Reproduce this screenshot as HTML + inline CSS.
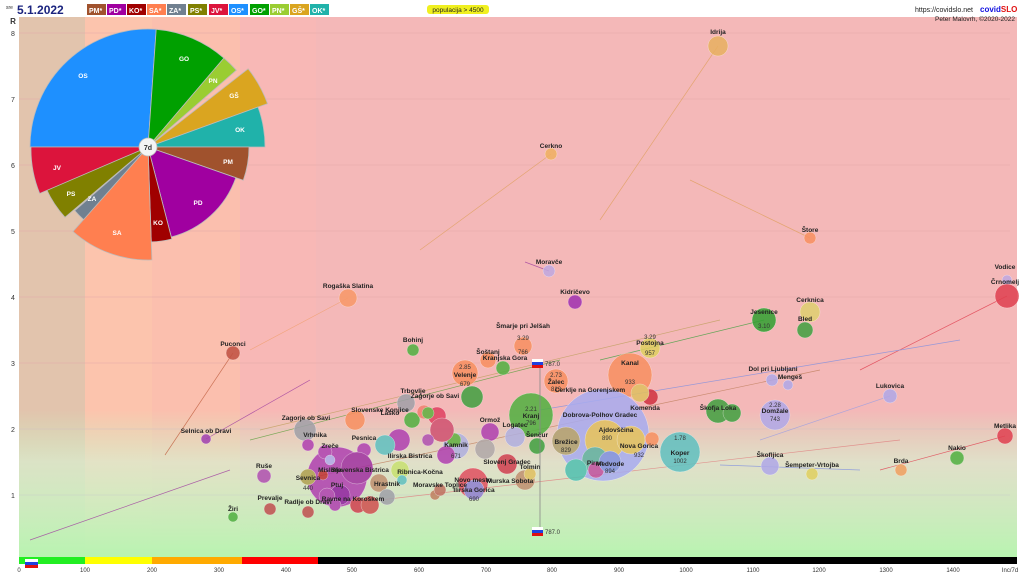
<!DOCTYPE html>
<html><head><meta charset="utf-8"><style>
html,body{margin:0;padding:0;background:#fff;}
svg{display:block;font-family:"Liberation Sans",sans-serif;}
.l{font-size:6.5px;fill:#222;font-weight:bold;}
.n{font-size:6px;fill:#333;}
</style></head><body>
<svg width="1024" height="576" viewBox="0 0 1024 576" xmlns="http://www.w3.org/2000/svg">
<defs>
<linearGradient id="gb" x1="0" y1="0" x2="0" y2="1">
<stop offset="0" stop-color="#c8f4c0" stop-opacity="0"/>
<stop offset="0.35" stop-color="#d8f0d0" stop-opacity="0.7"/>
<stop offset="1" stop-color="#b8f4b0" stop-opacity="1"/>
</linearGradient>
</defs>
<rect x="0" y="0" width="1024" height="576" fill="#fff"/>
<!-- bands -->
<rect x="19" y="17" width="66" height="541" fill="#e2c4ad"/>
<rect x="85" y="17" width="67" height="541" fill="#fcc4ad"/>
<rect x="152" y="17" width="88" height="541" fill="#fbbfae"/>
<rect x="240" y="17" width="76" height="541" fill="#f8b8b6"/>
<rect x="316" y="17" width="701" height="541" fill="#f4b8b8"/>
<rect x="19" y="410" width="998" height="148" fill="url(#gb)"/>
<!-- grid -->
<g stroke="#e2a8a8" stroke-width="0.6">
<line x1="19" y1="33" x2="1010" y2="33"/><line x1="19" y1="99" x2="1010" y2="99"/>
<line x1="19" y1="165" x2="1010" y2="165"/><line x1="19" y1="231" x2="1010" y2="231"/>
<line x1="19" y1="297" x2="1010" y2="297"/><line x1="19" y1="363" x2="1010" y2="363"/>
<line x1="19" y1="429" x2="1010" y2="429" stroke="#d0c0c0"/><line x1="19" y1="495" x2="1010" y2="495" stroke="#c8d0c8"/>
</g>
<!-- y labels -->
<g font-size="7" fill="#333" text-anchor="middle">
<text x="13" y="36">8</text><text x="13" y="102">7</text><text x="13" y="168">6</text><text x="13" y="234">5</text>
<text x="13" y="300">4</text><text x="13" y="366">3</text><text x="13" y="432">2</text><text x="13" y="498">1</text>
<text x="13" y="24" font-size="8" font-weight="bold">R</text>
</g>
<!-- bottom bar -->
<rect x="19" y="557" width="66" height="7" fill="#22ee22"/>
<rect x="85" y="557" width="67" height="7" fill="#ffff00"/>
<rect x="152" y="557" width="90" height="7" fill="#ffaa00"/>
<rect x="242" y="557" width="76" height="7" fill="#ff0000"/>
<rect x="318" y="557" width="699" height="7" fill="#000"/>
<g font-size="6" fill="#333" text-anchor="middle">
<text x="19" y="572">0</text><text x="85" y="572">100</text><text x="152" y="572">200</text><text x="219" y="572">300</text>
<text x="286" y="572">400</text><text x="352" y="572">500</text><text x="419" y="572">600</text><text x="486" y="572">700</text>
<text x="552" y="572">800</text><text x="619" y="572">900</text><text x="686" y="572">1000</text><text x="753" y="572">1100</text>
<text x="819" y="572">1200</text><text x="886" y="572">1300</text><text x="953" y="572">1400</text><text x="1010" y="572">Inc/7d</text>
</g>
<rect x="25" y="559" width="13" height="3" fill="#fff"/><rect x="25" y="562" width="13" height="3" fill="#2040e0"/><rect x="25" y="565" width="13" height="3" fill="#e01010"/>
<!-- connector lines -->
<g stroke-width="0.7" fill="none" opacity="0.8">
<line x1="718" y1="46" x2="600" y2="220" stroke="#e0a060"/>
<line x1="551" y1="154" x2="420" y2="250" stroke="#e0a060"/>
<line x1="810" y1="238" x2="690" y2="180" stroke="#e0a060"/>
<line x1="549" y1="271" x2="525" y2="262" stroke="#a040a0"/>
<line x1="1007" y1="296" x2="860" y2="370" stroke="#e04050"/>
<line x1="764" y1="320" x2="600" y2="360" stroke="#40a040"/>
<line x1="233" y1="353" x2="165" y2="455" stroke="#c06040"/>
<line x1="348" y1="298" x2="250" y2="350" stroke="#f0a070"/>
<line x1="1005" y1="436" x2="880" y2="470" stroke="#e04050"/>
<line x1="890" y1="396" x2="760" y2="440" stroke="#a0a0e0"/>
<line x1="206" y1="439" x2="310" y2="380" stroke="#a040a0"/>
<line x1="30" y1="540" x2="230" y2="470" stroke="#a040a0"/>
<line x1="540" y1="410" x2="960" y2="340" stroke="#8090e0"/>
<line x1="250" y1="440" x2="560" y2="360" stroke="#60a040"/>
<line x1="300" y1="480" x2="820" y2="370" stroke="#c08060"/>
<line x1="380" y1="500" x2="900" y2="440" stroke="#e08080"/>
<line x1="260" y1="430" x2="720" y2="320" stroke="#c0a060"/>
<line x1="720" y1="465" x2="860" y2="470" stroke="#8090e0"/>
</g>
<!-- bubbles -->
<g stroke="#ffffff" stroke-width="0.3" opacity="0.85">
<circle cx="718" cy="46" r="10" fill="#e8b060"/>
<circle cx="551" cy="154" r="6" fill="#f0b060"/>
<circle cx="810" cy="238" r="6" fill="#f89060"/>
<circle cx="549" cy="271" r="6" fill="#c0a8e0"/>
<circle cx="575" cy="302" r="7" fill="#a030b0"/>
<circle cx="348" cy="298" r="9" fill="#f89868"/>
<circle cx="1007" cy="280" r="5" fill="#c0a8e0"/>
<circle cx="1007" cy="296" r="12" fill="#e04050"/>
<circle cx="810" cy="312" r="10" fill="#e0d070"/>
<circle cx="805" cy="330" r="8" fill="#40a040"/>
<circle cx="764" cy="320" r="12" fill="#30a030"/>
<circle cx="233" cy="353" r="7" fill="#c05040"/>
<circle cx="413" cy="350" r="6" fill="#50b040"/>
<circle cx="523" cy="346" r="9" fill="#f89060"/>
<circle cx="650" cy="348" r="10" fill="#e0d060"/>
<circle cx="630" cy="375" r="22" fill="#f89060"/>
<circle cx="503" cy="368" r="7" fill="#50b040"/>
<circle cx="488" cy="360" r="8" fill="#f89060"/>
<circle cx="465" cy="373" r="13" fill="#f89060"/>
<circle cx="472" cy="397" r="11" fill="#40a040"/>
<circle cx="556" cy="381" r="12" fill="#f89060"/>
<circle cx="650" cy="397" r="8" fill="#d03040"/>
<circle cx="604" cy="400" r="9" fill="#40a040"/>
<circle cx="775" cy="415" r="15" fill="#b0a8e8"/>
<circle cx="772" cy="380" r="6" fill="#b0a8e8"/>
<circle cx="788" cy="385" r="5" fill="#b0a8e8"/>
<circle cx="890" cy="396" r="7" fill="#b0a8e8"/>
<circle cx="718" cy="411" r="12" fill="#40a040"/>
<circle cx="732" cy="413" r="9" fill="#40a040"/>
<circle cx="1005" cy="436" r="8" fill="#e04050"/>
<circle cx="957" cy="458" r="7" fill="#50b040"/>
<circle cx="901" cy="470" r="6" fill="#f0a060"/>
<circle cx="770" cy="466" r="9" fill="#b0a8e8"/>
<circle cx="812" cy="474" r="6" fill="#e0d060"/>
<circle cx="603" cy="435" r="46" fill="#a8acf0"/>
<circle cx="680" cy="452" r="20" fill="#60c0c0"/>
<circle cx="652" cy="439" r="7" fill="#f89060"/>
<circle cx="605" cy="440" r="20" fill="#e0c060"/>
<circle cx="631" cy="440" r="14" fill="#e0c060"/>
<circle cx="531" cy="415" r="22" fill="#50b040"/>
<circle cx="537" cy="446" r="8" fill="#40a040"/>
<circle cx="566" cy="441" r="14" fill="#b0a070"/>
<circle cx="595" cy="460" r="13" fill="#60b0a0"/>
<circle cx="576" cy="470" r="11" fill="#50c0b0"/>
<circle cx="596" cy="470" r="8" fill="#c050a0"/>
<circle cx="610" cy="462" r="11" fill="#8090e0"/>
<circle cx="515" cy="437" r="10" fill="#b0b0e0"/>
<circle cx="490" cy="432" r="9" fill="#b040b0"/>
<circle cx="485" cy="449" r="10" fill="#b0a8a8"/>
<circle cx="507" cy="464" r="10" fill="#d04050"/>
<circle cx="525" cy="480" r="10" fill="#c09070"/>
<circle cx="530" cy="474" r="6" fill="#e0c060"/>
<circle cx="473" cy="483" r="15" fill="#e05060"/>
<circle cx="474" cy="490" r="10" fill="#9080d0"/>
<circle cx="456" cy="446" r="13" fill="#b0b0e0"/>
<circle cx="454" cy="440" r="7" fill="#60b040"/>
<circle cx="437" cy="416" r="9" fill="#e04060"/>
<circle cx="442" cy="430" r="12" fill="#d05070"/>
<circle cx="412" cy="420" r="8" fill="#50b040"/>
<circle cx="406" cy="403" r="9" fill="#a0a0a8"/>
<circle cx="424" cy="412" r="7" fill="#f08070"/>
<circle cx="428" cy="413" r="6" fill="#60b040"/>
<circle cx="428" cy="440" r="6" fill="#b050b0"/>
<circle cx="446" cy="455" r="9" fill="#b040b0"/>
<circle cx="399" cy="440" r="11" fill="#b040b0"/>
<circle cx="385" cy="445" r="10" fill="#60c0c0"/>
<circle cx="400" cy="470" r="9" fill="#c8e070"/>
<circle cx="402" cy="480" r="5" fill="#60c0c0"/>
<circle cx="379" cy="483" r="9" fill="#c09070"/>
<circle cx="387" cy="497" r="8" fill="#a0a0a8"/>
<circle cx="355" cy="420" r="10" fill="#f89060"/>
<circle cx="364" cy="450" r="7" fill="#b040b0"/>
<circle cx="337" cy="477" r="30" fill="#b040b0"/>
<circle cx="357" cy="468" r="16" fill="#a030a0"/>
<circle cx="340" cy="495" r="10" fill="#9020a0"/>
<circle cx="305" cy="430" r="11" fill="#a0a0a8"/>
<circle cx="325" cy="452" r="7" fill="#b040b0"/>
<circle cx="308" cy="445" r="6" fill="#b040b0"/>
<circle cx="330" cy="460" r="5" fill="#b0a8e8"/>
<circle cx="308" cy="477" r="8" fill="#b0a050"/>
<circle cx="323" cy="475" r="5" fill="#c03030"/>
<circle cx="327" cy="496" r="8" fill="#b040b0"/>
<circle cx="335" cy="505" r="6" fill="#b040b0"/>
<circle cx="358" cy="505" r="8" fill="#d04050"/>
<circle cx="370" cy="505" r="9" fill="#d05050"/>
<circle cx="435" cy="495" r="5" fill="#c08060"/>
<circle cx="440" cy="490" r="6" fill="#c07060"/>
<circle cx="206" cy="439" r="5" fill="#a040b0"/>
<circle cx="264" cy="476" r="7" fill="#b050b0"/>
<circle cx="233" cy="517" r="5" fill="#50b040"/>
<circle cx="270" cy="509" r="6" fill="#c05050"/>
<circle cx="308" cy="512" r="6" fill="#c05050"/>
<circle cx="640" cy="393" r="9" fill="#e0c060"/>
</g>
<!-- bubble labels -->
<g class="l" text-anchor="middle">
<text x="718" y="34">Idrija</text><text x="551" y="148">Cerkno</text><text x="810" y="232">Štore</text>
<text x="549" y="264">Moravče</text><text x="575" y="294">Kidričevo</text><text x="348" y="288">Rogaška Slatina</text>
<text x="1005" y="269">Vodice</text><text x="1005" y="284">Črnomelj</text><text x="810" y="302">Cerknica</text><text x="805" y="321">Bled</text>
<text x="764" y="314">Jesenice</text><text x="233" y="346">Puconci</text><text x="413" y="342">Bohinj</text>
<text x="523" y="328">Šmarje pri Jelšah</text><text x="488" y="354">Šoštanj</text><text x="505" y="360">Kranjska Gora</text>
<text x="465" y="377">Velenje</text><text x="556" y="384">Žalec</text><text x="590" y="392">Cerklje na Gorenjskem</text>
<text x="630" y="365">Kanal</text><text x="650" y="345">Postojna</text><text x="773" y="371">Dol pri Ljubljani</text><text x="790" y="379">Mengeš</text>
<text x="890" y="388">Lukovica</text><text x="645" y="410">Komenda</text><text x="413" y="393">Trbovlje</text><text x="435" y="398">Zagorje ob Savi</text>
<text x="306" y="420">Zagorje ob Savi</text><text x="380" y="412">Slovenske Konjice</text><text x="390" y="415">Laško</text>
<text x="490" y="422">Ormož</text><text x="515" y="427">Logatec</text><text x="531" y="418">Kranj</text><text x="600" y="417">Dobrova-Polhov Gradec</text>
<text x="616" y="432">Ajdovščina</text><text x="639" y="448">Nova Gorica</text><text x="680" y="455">Koper</text><text x="718" y="410">Škofja Loka</text>
<text x="775" y="413">Domžale</text><text x="1005" y="428">Metlika</text><text x="957" y="450">Nakio</text><text x="901" y="463">Brda</text>
<text x="770" y="457">Škofljica</text><text x="812" y="467">Šempeter-Vrtojba</text><text x="206" y="433">Selnica ob Dravi</text>
<text x="264" y="468">Ruše</text><text x="233" y="511">Žiri</text><text x="270" y="500">Prevalje</text><text x="308" y="504">Radlje ob Dravi</text>
<text x="537" y="437">Šenčur</text><text x="566" y="444">Brežice</text><text x="595" y="465">Piran</text><text x="610" y="466">Medvode</text>
<text x="507" y="464">Slovenj Gradec</text><text x="530" y="469">Tolmin</text><text x="510" y="483">Murska Sobota</text>
<text x="473" y="482">Novo mesto</text><text x="474" y="492">Ilirska Gorica</text><text x="456" y="447">Kamnik</text>
<text x="364" y="440">Pesnica</text><text x="410" y="458">Ilirska Bistrica</text><text x="420" y="474">Ribnica-Kočna</text>
<text x="330" y="472">Mislinja</text><text x="360" y="472">Slovenska Bistrica</text><text x="337" y="487">Ptuj</text>
<text x="308" y="480">Sevnica</text><text x="387" y="486">Hrastnik</text><text x="440" y="487">Moravske Toplice</text>
<text x="353" y="501">Ravne na Koroškem</text><text x="315" y="437">Vrhnika</text><text x="330" y="448">Zreče</text>
</g>
<g class="n" text-anchor="middle">
<text x="465" y="369">2.85</text><text x="465" y="386">679</text><text x="556" y="377">2.73</text><text x="556" y="391">812</text>
<text x="523" y="340">3.29</text><text x="523" y="354">766</text><text x="650" y="339">3.29</text><text x="650" y="355">957</text>
<text x="764" y="328">3.10</text><text x="531" y="411">2.21</text><text x="531" y="425">796</text><text x="775" y="407">2.28</text><text x="775" y="421">743</text>
<text x="680" y="440">1.78</text><text x="680" y="463">1002</text><text x="639" y="457">932</text><text x="566" y="452">829</text>
<text x="610" y="473">894</text><text x="456" y="458">671</text><text x="474" y="501">690</text><text x="308" y="490">440</text>
<text x="630" y="384">933</text><text x="607" y="440">890</text>
</g>
<!-- flags & Slovenia line -->
<line x1="540" y1="367" x2="540" y2="528" stroke="#888" stroke-width="0.8"/>
<rect x="532" y="359" width="11" height="3" fill="#fff"/><rect x="532" y="362" width="11" height="3" fill="#2040e0"/><rect x="532" y="365" width="11" height="3" fill="#e01010"/>
<text x="545" y="366" font-size="6" fill="#333">787.0</text>
<rect x="532" y="527" width="11" height="3" fill="#fff"/><rect x="532" y="530" width="11" height="3" fill="#2040e0"/><rect x="532" y="533" width="11" height="3" fill="#e01010"/>
<text x="545" y="534" font-size="6" fill="#333">787.0</text>
<!-- pie -->
<g stroke="#bbb" stroke-width="0.8">
<path d="M148,147 L30,147 A118,118 0 0 1 156.2,29.3 Z" fill="#1e90ff"/>
<path d="M148,147 L156.2,29.3 A117,117 0 0 1 223.9,58.1 Z" fill="#00a000"/>
<path d="M148,147 L223.9,58.1 A117,117 0 0 1 236.3,70.2 Z" fill="#9acd32"/>
<path d="M148,147 L248.1,68.8 A127,127 0 0 1 267.5,103.6 Z" fill="#daa520"/>
<path d="M148,147 L258.0,107.0 A117,117 0 0 1 265,147 Z" fill="#20b2aa"/>
<path d="M148,147 L249,147 A101,101 0 0 1 243.3,180.3 Z" fill="#a0522d"/>
<path d="M148,147 L235.8,177.7 A93,93 0 0 1 171.3,237.0 Z" fill="#a000a0"/>
<path d="M148,147 L171.8,239.0 A95,95 0 0 1 151.3,241.9 Z" fill="#a00000"/>
<path d="M148,147 L151.9,259.9 A113,113 0 0 1 73.0,231.5 Z" fill="#ff7f50"/>
<path d="M148,147 L83.6,219.6 A97,97 0 0 1 74.8,210.6 Z" fill="#708090"/>
<path d="M148,147 L65.0,217.3 A110,110 0 0 1 46.3,188.9 Z" fill="#808000"/>
<path d="M148,147 L39.7,193.5 A117,117 0 0 1 31,147 Z" fill="#dc143c"/>
</g>
<g font-size="6.5" fill="#fff" font-weight="bold" text-anchor="middle">
<text x="83" y="78">OS</text><text x="184" y="61">GO</text><text x="213" y="83">PN</text><text x="234" y="98">GŠ</text>
<text x="240" y="132">OK</text><text x="228" y="164">PM</text><text x="198" y="205">PD</text><text x="158" y="225">KO</text>
<text x="117" y="235">SA</text><text x="92" y="201">ZA</text><text x="71" y="196">PS</text><text x="57" y="170">JV</text>
</g>
<circle cx="148" cy="147" r="9" fill="#f4f4f4" stroke="#bbb" stroke-width="0.8"/>
<text x="148" y="150" font-size="7" fill="#333" font-weight="bold" text-anchor="middle">7d</text>
<!-- header -->
<text x="6" y="9" font-size="5" fill="#333">sre</text>
<text x="17" y="14" font-size="12" font-weight="bold" fill="#1a237e">5.1.2022</text>
<g font-size="7" font-weight="bold" fill="#fff">
<rect x="87" y="4" width="19" height="11" fill="#a0522d"/><text x="89" y="13">PM*</text>
<rect x="107" y="4" width="19" height="11" fill="#a000a0"/><text x="109" y="13">PD*</text>
<rect x="127" y="4" width="19" height="11" fill="#a00000"/><text x="129" y="13">KO*</text>
<rect x="147" y="4" width="19" height="11" fill="#ff7f50"/><text x="149" y="13">SA*</text>
<rect x="167" y="4" width="19" height="11" fill="#708090"/><text x="169" y="13">ZA*</text>
<rect x="188" y="4" width="19" height="11" fill="#808000"/><text x="190" y="13">PS*</text>
<rect x="209" y="4" width="19" height="11" fill="#dc143c"/><text x="211" y="13">JV*</text>
<rect x="229" y="4" width="19" height="11" fill="#1e90ff"/><text x="231" y="13">OS*</text>
<rect x="250" y="4" width="19" height="11" fill="#00a000"/><text x="252" y="13">GO*</text>
<rect x="270" y="4" width="19" height="11" fill="#9acd32"/><text x="272" y="13">PN*</text>
<rect x="290" y="4" width="19" height="11" fill="#daa520"/><text x="292" y="13">GŠ*</text>
<rect x="310" y="4" width="19" height="11" fill="#20b2aa"/><text x="312" y="13">OK*</text>
</g>
<rect x="427" y="5" width="62" height="9" rx="3" fill="#f0f020"/>
<text x="458" y="12" font-size="6.5" fill="#222" text-anchor="middle">populacija &gt; 4500</text>
<text x="915" y="12" font-size="7" fill="#222">https://covidslo.net</text>
<text x="980" y="12" font-size="8" font-weight="bold" fill="#1010e0">covid<tspan fill="#e01010">SLO</tspan></text>
<text x="935" y="21" font-size="6.5" fill="#222">Peter Malovrh, ©2020-2022</text>
</svg>
</body></html>
